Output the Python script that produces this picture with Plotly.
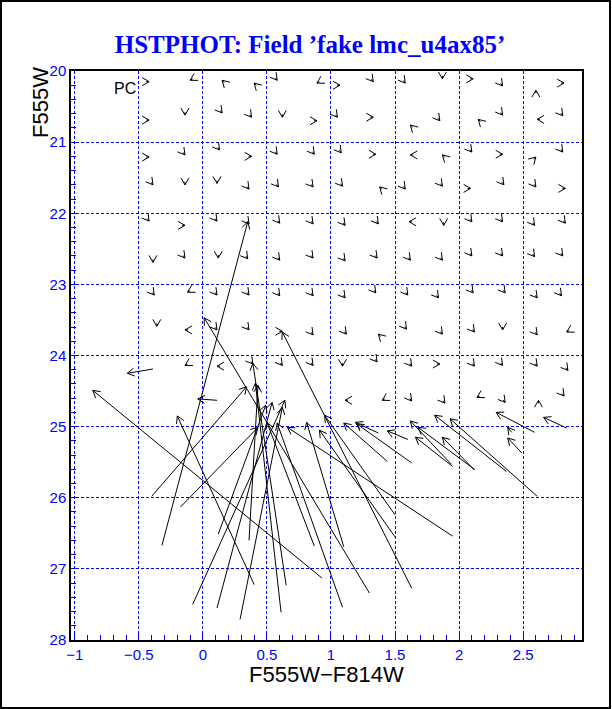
import math
import plotly.graph_objects as go

# ---------------- data ----------------
# long arrows: recovered (tail) -> input (head), colour F555W-F814W and magnitude F555W
tail_col = [-0.40, -0.175, -0.32, 0.12, 0.36, 0.40, -0.08, 0.11, 0.29, 0.61, 0.65, 0.87, 0.93, 1.09,
            1.10, 1.30, 1.50, 1.50, 1.95, 1.63, 1.44, 1.37, 1.63, 1.60, 1.94, 1.95, 2.12, 2.12,
            2.37, 2.61, 2.59, 2.49, 2.84, 2.41, -0.39, 0.11]
tail_mag = [25.98, 26.13, 26.67, 26.51, 26.60, 27.22, 27.50, 27.55, 27.71, 27.61, 27.23, 26.68, 27.13, 27.54,
            26.69, 27.34, 26.24, 26.55, 26.54, 27.27, 25.49, 25.09, 25.51, 25.18, 25.53, 25.56, 25.60, 25.61,
            25.63, 25.98, 25.08, 25.37, 25.02, 25.08, 24.19, 24.63]
head_col = [0.34, 0.43, 0.35, 0.49, 0.43, -0.20, 0.64, 0.54, 0.62, 0.41, 0.39, 0.50, -0.86, 0.58,
            0.81, 0.01, 0.95, 0.91, 0.66, 0.62, 1.10, 1.19, 1.20, 1.44, 1.62, 1.66, 1.68, 1.87,
            1.81, 1.93, 2.29, 2.38, 2.66, 2.38, -0.59, -0.04]
head_mag = [24.44, 25.01, 22.12, 24.70, 24.42, 24.85, 24.63, 24.66, 24.73, 24.39, 24.11, 24.94, 24.49, 24.95,
            24.94, 23.47, 24.84, 25.05, 25.01, 23.67, 24.95, 24.94, 24.96, 25.06, 24.92, 25.15, 25.01, 25.15,
            24.84, 24.89, 24.80, 25.16, 24.87, 25.01, 24.25, 24.61]

# small arrows on the artificial-star grid: position and direction of the (tiny) offset
grid_col = [
    -0.42, -0.10, 0.15, 0.40, 0.58, 0.89, 1.07, 1.33, 1.58, 1.87, 2.11, 2.34, 2.60, 2.82,
    -0.42, -0.14, 0.15, 0.38, 0.62, 0.89, 1.05, 1.33, 1.62, 1.85, 2.15, 2.34, 2.61, 2.81,
    -0.42, -0.14, 0.13, 0.38, 0.58, 0.87, 1.08, 1.35, 1.62, 1.87, 2.10, 2.34, 2.60, 2.81,
    -0.39, -0.14, 0.11, 0.36, 0.59, 0.86, 1.09, 1.38, 1.58, 1.87, 2.09, 2.35, 2.60, 2.83,
    -0.42, -0.14, 0.11, 0.36, 0.60, 0.86, 1.11, 1.37, 1.61, 1.88, 2.10, 2.34, 2.59, 2.83,
    -0.39, -0.14, 0.12, 0.35, 0.60, 0.86, 1.11, 1.36, 1.62, 1.87, 2.10, 2.34, 2.59, 2.81,
    -0.38, -0.12, 0.11, 0.36, 0.60, 0.86, 1.11, 1.35, 1.60, 1.84, 2.11, 2.36, 2.61, 2.80,
    -0.36, -0.14, 0.11, 0.36, 0.62, 0.86, 1.12, 1.37, 1.59, 1.87, 2.12, 2.34, 2.61, 2.84,
    -0.14, 0.11, 0.39, 0.62, 0.86, 1.09, 1.36, 1.63, 1.85, 2.12, 2.34, 2.61, 2.85,
    1.11, 1.40, 1.63, 1.89, 2.14, 2.36, 2.62, 2.82,
]
grid_mag = [
    20.15, 20.13, 20.13, 20.17, 20.13, 20.17, 20.20, 20.15, 20.17, 20.11, 20.11, 20.21, 20.27, 20.17,
    20.69, 20.62, 20.59, 20.65, 20.65, 20.70, 20.65, 20.65, 20.76, 20.70, 20.68, 20.62, 20.68, 20.63,
    21.21, 21.18, 21.11, 21.20, 21.17, 21.17, 21.15, 21.17, 21.18, 21.18, 21.14, 21.17, 21.21, 21.14,
    21.60, 21.60, 21.58, 21.66, 21.63, 21.63, 21.62, 21.63, 21.66, 21.62, 21.65, 21.60, 21.63, 21.65,
    22.11, 22.17, 22.11, 22.15, 22.14, 22.15, 22.17, 22.15, 22.12, 22.17, 22.12, 22.12, 22.17, 22.14,
    22.69, 22.63, 22.63, 22.64, 22.66, 22.63, 22.67, 22.63, 22.66, 22.66, 22.60, 22.60, 22.61, 22.60,
    23.15, 23.11, 23.15, 23.15, 23.16, 23.16, 23.19, 23.12, 23.15, 23.19, 23.12, 23.12, 23.19, 23.16,
    23.59, 23.64, 23.64, 23.64, 23.66, 23.71, 23.70, 23.70, 23.63, 23.70, 23.67, 23.64, 23.71, 23.67,
    24.14, 24.15, 24.12, 24.14, 24.14, 24.15, 24.09, 24.15, 24.12, 24.15, 24.14, 24.15, 24.21,
    24.63, 24.63, 24.64, 24.67, 24.59, 24.66, 24.63, 24.57,
]
grid_dir = [
    "R", "DL", "UL", "UL", "DR", "DL", "R", "DR", "DR", "D", "R", "DR", "U", "R",
    "R", "D", "DR", "DR", "D", "R", "DR", "R", "UL", "DR", "UL", "DR", "L", "DR",
    "R", "DR", "DR", "R", "DR", "DR", "DR", "R", "L", "UL", "DR", "R", "UR", "DR",
    "DR", "D", "D", "DR", "DR", "DR", "DR", "UL", "DR", "DR", "R", "DR", "DR", "R",
    "DR", "R", "DR", "DR", "DR", "DR", "DR", "DR", "L", "D", "DR", "DR", "DR", "DR",
    "D", "DR", "D", "DR", "DR", "DR", "DR", "DR", "DR", "DR", "DR", "DR", "DR", "DR",
    "DR", "DL", "DR", "DR", "DR", "DR", "DR", "DR", "DR", "DR", "DR", "DR", "DR", "DR",
    "D", "L", "DR", "DR", "R", "DR", "DR", "UL", "DR", "DR", "DR", "D", "DR", "DL",
    "DL", "L", "DR", "DR", "DR", "D", "DR", "DR", "R", "DR", "DR", "DR", "DR",
    "L", "DL", "DR", "DR", "DL", "DR", "U", "DR",
]
# tiny offsets (colour, magnitude) for each direction code
DIRS = {
    "R": (0.023, 0.0), "L": (-0.023, 0.0), "D": (0.0, 0.042), "U": (0.0, -0.042),
    "DR": (0.015, 0.035), "DL": (-0.02, 0.02), "UL": (-0.017, -0.03), "UR": (0.017, -0.03),
}

x_tick_vals = [-1, -0.5, 0, 0.5, 1, 1.5, 2, 2.5]
x_tick_text = ["\u22121", "\u22120.5", "0", "0.5", "1", "1.5", "2", "2.5"]
y_tick_vals = [20, 21, 22, 23, 24, 25, 26, 27, 28]

# ---------------- layout geometry ----------------
W, H = 612, 709
ML, MR, MT, MB = 71, 30, 71, 69
X_RANGE = [-1.03, 2.96]
Y_RANGE = [28.0, 20.0]
pw = W - ML - MR
ph = H - MT - MB
sx = pw / (X_RANGE[1] - X_RANGE[0])
sy = ph / (Y_RANGE[0] - Y_RANGE[1])

HEAD_LEN = 8.0
HEAD_ANG = math.radians(30)

xs, ys = [], []


def add_arrow(tc, tm, hc, hm):
    xs.extend([tc, hc, None])
    ys.extend([tm, hm, None])
    vx = (hc - tc) * sx
    vy = (hm - tm) * sy
    n = math.hypot(vx, vy)
    if n == 0:
        return
    bx, by = -vx / n, -vy / n
    for a in (HEAD_ANG, -HEAD_ANG):
        rx = bx * math.cos(a) - by * math.sin(a)
        ry = bx * math.sin(a) + by * math.cos(a)
        xs.extend([hc, hc + HEAD_LEN * rx / sx, None])
        ys.extend([hm, hm + HEAD_LEN * ry / sy, None])


for tc, tm, hc, hm in zip(tail_col, tail_mag, head_col, head_mag):
    add_arrow(tc, tm, hc, hm)

for c, m, d in zip(grid_col, grid_mag, grid_dir):
    dc, dm = DIRS[d]
    add_arrow(c - dc, m - dm, c, m)

fig = go.Figure()
fig.add_trace(go.Scatter(x=xs, y=ys, mode="lines",
                         line=dict(color="black", width=1),
                         hoverinfo="skip", showlegend=False))

blue = "#0000ff"
axis_common = dict(
    showline=True, linecolor="black", linewidth=1.5, mirror=True,
    showgrid=True, gridcolor=blue, gridwidth=1, griddash="3px,2px",
    zeroline=False, ticks="inside", ticklen=6, tickwidth=1, tickcolor=blue,
    tickfont=dict(family="Liberation Sans, Arial, sans-serif", size=15, color=blue),
)

fig.update_layout(
    width=W, height=H,
    margin=dict(l=ML, r=MR, t=MT, b=MB),
    paper_bgcolor="white", plot_bgcolor="white",
    title=dict(text="<b>HSTPHOT: Field \u2019fake lmc_u4ax85\u2019</b>",
               font=dict(family="Liberation Serif, Times New Roman, serif", size=25, color=blue),
               x=310 / W, xref="container", xanchor="center",
               y=1 - 44 / H, yref="container", yanchor="middle"),
    xaxis=dict(range=X_RANGE, tickmode="array", tickvals=x_tick_vals, ticktext=x_tick_text,
               minor=dict(ticks="inside", dtick=0.1, tick0=-1, ticklen=5, tickcolor=blue, showgrid=False),
               **axis_common),
    yaxis=dict(range=Y_RANGE, tickmode="array", tickvals=y_tick_vals,
               minor=dict(ticks="inside", dtick=0.2, tick0=20, ticklen=5, tickcolor=blue, showgrid=False),
               **axis_common),
)

fig.add_annotation(text="F555W\u2212F814W", xref="paper", yref="paper",
                   x=(326 - ML) / pw, y=(MT + ph - 675) / ph, showarrow=False,
                   xanchor="center", yanchor="middle",
                   font=dict(family="Liberation Sans, Arial, sans-serif", size=22, color="black"))
fig.add_annotation(text="F555W", xref="paper", yref="paper", textangle=-90,
                   x=(40 - ML) / pw, y=(MT + ph - 103) / ph, showarrow=False,
                   xanchor="center", yanchor="middle",
                   font=dict(family="Liberation Sans, Arial, sans-serif", size=22, color="black"))
fig.add_annotation(text="PC", x=-0.605, y=20.24, xref="x", yref="y", showarrow=False,
                   xanchor="center", yanchor="middle",
                   font=dict(family="Liberation Sans, Arial, sans-serif", size=16, color="black"))

# outer frame around the whole picture
fig.add_shape(type="rect", xref="paper", yref="paper",
              x0=(1 - ML) / pw, x1=(610 - ML) / pw,
              y0=(MT + ph - 708) / ph, y1=(MT + ph - 1) / ph,
              line=dict(color="black", width=2), fillcolor="rgba(0,0,0,0)")

fig.write_html("out.html", config={"displayModeBar": False},
               post_script="document.body.style.margin='0';document.body.style.overflow='hidden';")
